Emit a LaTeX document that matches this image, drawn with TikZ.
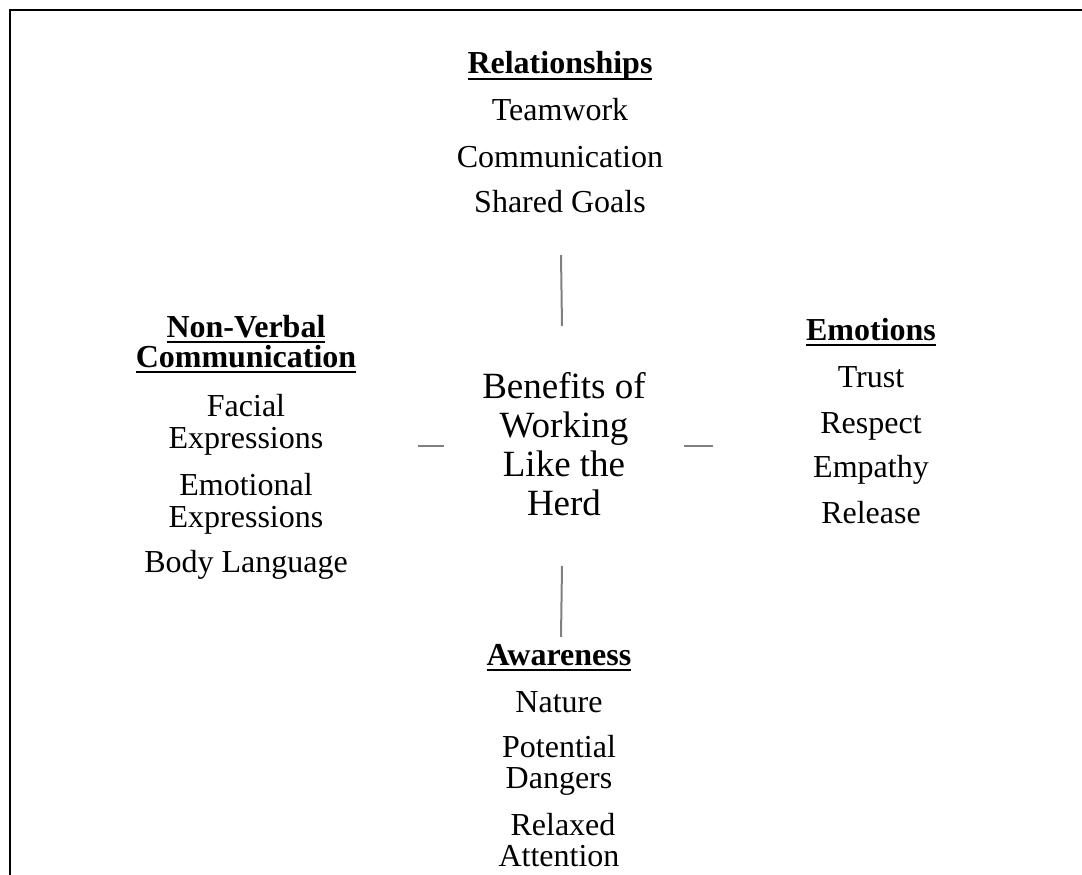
\documentclass[tikz,border=0pt]{standalone}
\usepackage{fontspec}
\setmainfont{Liberation Serif}
\newcommand\ulbar[1]{\setbox0\hbox{#1}\rlap{\rule[-6pt]{\wd0}{2pt}}\box0}
\tikzset{
  headtext/.style={font=\bfseries\fontsize{32}{30}\selectfont, anchor=base, align=center, inner sep=0pt},
  itemtext/.style={font=\fontsize{32}{32}\selectfont, anchor=base, align=center, inner sep=0pt},
  centertext/.style={font=\fontsize{37}{39}\selectfont, anchor=base, align=center, inner sep=0pt},
  link/.style={draw=black!50, line width=2pt},
  frame/.style={draw=black, line width=1.6pt}
}
\begin{document}
\begin{tikzpicture}[x=1pt,y=1pt]
\useasboundingbox (0,0) rectangle (1082,-875);
\clip (0,0) rectangle (1082,-875);
\draw[frame] (10,-10) rectangle (1100,-900);

% center (base anchor = last line's baseline)
\node[centertext] (center) at (564,-515) {Benefits of\\Working\\Like the\\Herd};

% top block
\node[headtext] (relh) at (560,-74) {\ulbar{Relationships}};
\node[itemtext] (rel1) at (560,-120) {Teamwork};
\node[itemtext] (rel2) at (560,-167) {Communication};
\node[itemtext] (rel3) at (560,-212) {Shared Goals};

% left block
\node[headtext] (nvh) at (246,-367) {\ulbar{Non-Verbal}\\\ulbar{Communication}};
\node[itemtext] (nv1) at (246,-448) {Facial\\Expressions};
\node[itemtext] (nv2) at (246,-527) {Emotional\\Expressions};
\node[itemtext] (nv3) at (246,-572) {Body Language};

% right block
\node[headtext] (emh) at (871,-340) {\ulbar{Emotions}};
\node[itemtext] (em1) at (871,-387) {Trust};
\node[itemtext] (em2) at (871,-433) {Respect};
\node[itemtext] (em3) at (871,-477) {Empathy};
\node[itemtext] (em4) at (871,-523) {Release};

% bottom block
\node[headtext] (awh) at (559,-665) {\ulbar{Awareness}};
\node[itemtext] (aw1) at (559,-712) {Nature};
\node[itemtext,font=\fontsize{32}{31}\selectfont] (aw2) at (559,-788) {Potential\\Dangers};
\node[itemtext,font=\fontsize{32}{31}\selectfont] (aw3) at (559,-866) {\hspace*{8pt}Relaxed\\Attention};

% connectors
\coordinate (ta) at (561,-255);
\coordinate (tb) at (562,-326);
\coordinate (la) at (418,-446);
\coordinate (lb) at (444,-446);
\coordinate (ra) at (684,-446);
\coordinate (rb) at (713,-446);
\coordinate (ba) at (562,-566);
\coordinate (bb) at (561,-637);
\draw[link] (ta) -- (tb);
\draw[link] (la) -- (lb);
\draw[link] (ra) -- (rb);
\draw[link] (ba) -- (bb);
\end{tikzpicture}
\end{document}
